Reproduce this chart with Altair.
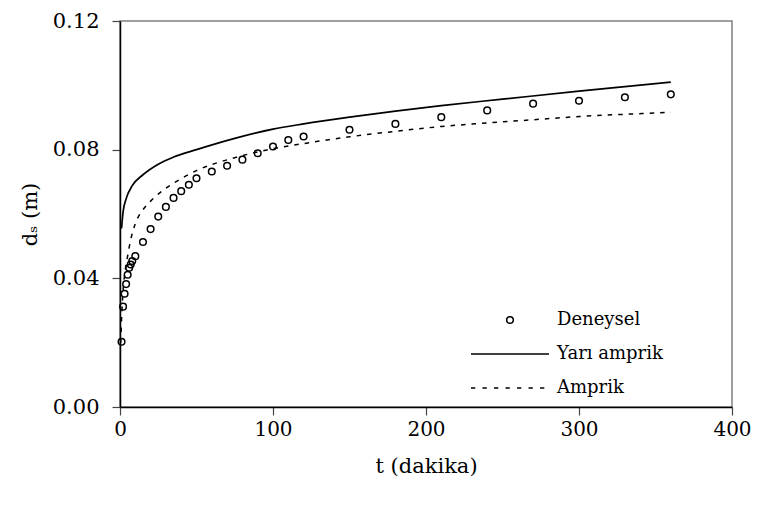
import altair as alt
import pandas as pd

# Deneysel (experimental) points
exp_t = [1, 2, 3, 4, 5, 6, 7, 8, 10, 15, 20, 25, 30, 35, 40, 45, 50, 60, 70, 80,
         90, 100, 110, 120, 150, 180, 210, 240, 270, 300, 330, 360]
exp_d = [0.0203, 0.0312, 0.0352, 0.0382, 0.0411, 0.0433, 0.0443, 0.0454, 0.0469,
         0.0513, 0.0553, 0.0592, 0.0622, 0.0650, 0.0671, 0.0691, 0.0711, 0.0732,
         0.0750, 0.0769, 0.0789, 0.0810, 0.0830, 0.0841, 0.0862, 0.0880, 0.0901,
         0.0922, 0.0943, 0.0952, 0.0963, 0.0972]

# Yarı amprik (semi-empirical) curve
semi_t = [1, 2, 4, 8, 15, 25, 35, 50, 75, 100, 120, 150, 180, 210, 250, 300, 360]
semi_d = [0.0555, 0.0606, 0.0647, 0.0688, 0.0722, 0.0755, 0.0777, 0.0800, 0.0835,
          0.0864, 0.0880, 0.0901, 0.0920, 0.0937, 0.0957, 0.0982, 0.1010]

# Amprik (empirical) curve
emp_t = [0.5, 1, 2, 3, 5, 7, 10, 15, 20, 30, 40, 50, 75, 100, 120, 150, 180, 210,
         240, 270, 300, 330, 360]
emp_d = [0.020, 0.027, 0.036, 0.041, 0.047, 0.052, 0.057, 0.0613, 0.064, 0.068,
         0.071, 0.0735, 0.0775, 0.0803, 0.0819, 0.0840, 0.0857, 0.0872, 0.0883,
         0.0893, 0.0903, 0.0910, 0.0916]

series_names = ["Deneysel", "Yarı amprik", "Amprik"]
x_ticks = [0, 100, 200, 300, 400]
y_ticks = [0.0, 0.04, 0.08, 0.12]

FONT = "'DejaVu Serif', serif"

exp_df = pd.DataFrame({"t": exp_t, "d": exp_d, "series": series_names[0]})
semi_df = pd.DataFrame({"t": semi_t, "d": semi_d, "series": series_names[1]})
emp_df = pd.DataFrame({"t": emp_t, "d": emp_d, "series": series_names[2]})

# legend / marker glyphs (unit paths, scaled by symbol size)
r = 0.085
circle_path = f"M{r},0A{r},{r},0,1,1,{-r},0A{r},{r},0,1,1,{r},0Z"
line_path = "M-1,0H1"
dash_path = ("M-1,0H-0.89M-0.705,0H-0.595M-0.41,0H-0.3M-0.115,0H-0.005"
             "M0.18,0H0.29M0.475,0H0.585M0.77,0H0.88")
SYM = 78 * 78

x_enc = alt.X("t:Q", scale=alt.Scale(domain=[0, 400], nice=False),
              axis=alt.Axis(values=x_ticks, title="t (dakika)", format="d",
                            labelFlush=False, labelFontSize=20,
                            labelPadding=4, titlePadding=16))
y_enc = alt.Y("d:Q", scale=alt.Scale(domain=[0, 0.12], nice=False),
              axis=alt.Axis(values=y_ticks, title="dₛ (m)", format=".2f",
                            labelPadding=13, titlePadding=12))

shape_scale = alt.Scale(domain=series_names,
                        range=[circle_path, line_path, dash_path])

points = alt.Chart(exp_df).mark_point(
    filled=False, size=SYM, color="black", strokeWidth=1.5, opacity=1
).encode(
    x=x_enc, y=y_enc,
    shape=alt.Shape("series:N", scale=shape_scale,
                    legend=alt.Legend(title=None, orient="none",
                                      legendX=350, legendY=284,
                                      clipHeight=30, rowPadding=4,
                                      symbolSize=SYM, symbolStrokeWidth=1.5,
                                      symbolStrokeColor="black",
                                      symbolFillColor="transparent",
                                      labelFont=FONT, labelFontSize=18,
                                      labelColor="black", labelOffset=7,
                                      padding=0))
)

semi_line = alt.Chart(semi_df).mark_line(
    color="black", strokeWidth=1.7, interpolate="monotone"
).encode(x="t:Q", y="d:Q")

emp_line = alt.Chart(emp_df).mark_line(
    color="black", strokeWidth=1.5, strokeDash=[4.5, 6], interpolate="monotone"
).encode(x="t:Q", y="d:Q")

chart = alt.layer(semi_line, emp_line, points).properties(
    width=612, height=386,
    autosize=alt.AutoSizeParams(type="none"),
    padding={"left": 112, "top": 13, "right": 19, "bottom": 101},
    background="white",
).configure(
    font=FONT
).configure_view(
    stroke="#808080", strokeWidth=1.5
).configure_axis(
    grid=False, labelFont=FONT, labelFontSize=21, labelColor="black",
    titleFont=FONT, titleFontSize=21, titleFontWeight="normal", titleColor="black",
    domainColor="black", domainWidth=1.5, tickColor="#444444", tickSize=8,
    tickWidth=1.2
)

chart.save("out.html", embed_options={"renderer": "svg", "actions": False})
